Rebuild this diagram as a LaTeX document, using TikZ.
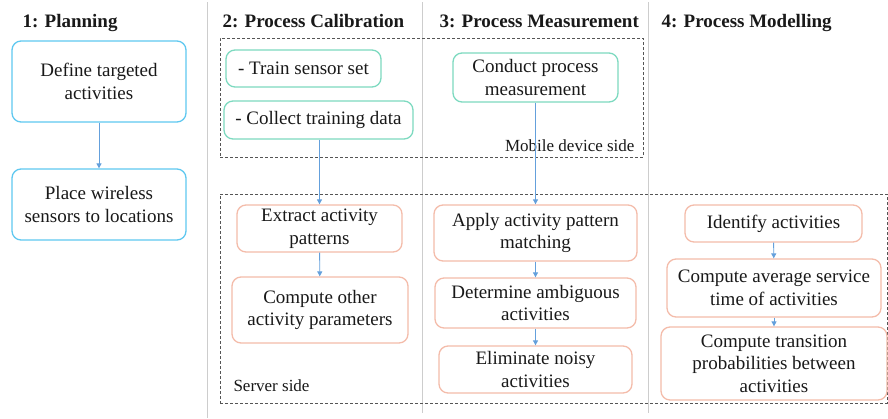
\documentclass[tikz,border=0pt]{standalone}
\usepackage{fontspec}
\setmainfont{Liberation Serif}
\usetikzlibrary{arrows.meta}
\definecolor{bluebd}{RGB}{95,200,240}
\definecolor{greenbd}{RGB}{125,218,192}
\definecolor{orangebd}{RGB}{244,188,170}
\definecolor{arrowc}{RGB}{100,160,220}
\definecolor{sepc}{RGB}{205,205,205}
\definecolor{dashc}{RGB}{85,85,85}
\definecolor{txt}{RGB}{25,25,25}
\tikzset{
  x=1pt, y=-1pt,
  every node/.style={font=\fontsize{19}{22.5}\selectfont, text=txt},
  basebox/.style={draw, rounded corners=9pt, line width=1.3pt, inner sep=0pt, align=center},
  bluebox/.style={basebox, draw=bluebd},
  greenbox/.style={basebox, draw=greenbd},
  orangebox/.style={basebox, draw=orangebd},
  flow/.style={draw=arrowc, line width=0.9pt, -{Triangle[length=5pt,width=5pt]}},
  sepline/.style={draw=sepc, line width=1pt},
  areabox/.style={draw=dashc, line width=0.9pt, dash pattern=on 3pt off 2pt, inner sep=0pt},
  phase/.style={font=\fontsize{19}{22}\selectfont\bfseries, anchor=base west},
  arealabel/.style={font=\fontsize{17}{20}\selectfont}
}
\begin{document}
\begin{tikzpicture}
\useasboundingbox (0,0) rectangle (888,418);
\fill[white] (0,0) rectangle (888,418);

% separators
\draw[sepline] (207,2) -- (207,418);
\draw[sepline] (422,2) -- (422,413);
\draw[sepline] (648,2) -- (648,413);

% phase titles
\node[phase] (t1) at (19,27) {1: Planning};
\node[phase] (t2) at (219,27) {2: Process Calibration};
\node[phase] (t3) at (436,27) {3: Process Measurement};
\node[phase] (t4) at (658,27) {4: Process Modelling};

% area boxes
\node[areabox, minimum width=423pt, minimum height=119pt] (mobile) at (431.5,97.5) {};
\node[arealabel, anchor=base east] (mobl) at (638,151) {Mobile device side};
\node[areabox, minimum width=667pt, minimum height=209pt] (server) at (553.5,298.5) {};
\node[arealabel, anchor=base west] (servl) at (230,391) {Server side};

% planning
\node[bluebox, minimum width=174pt, minimum height=81pt] (def) at (99,81.5) {Define targeted\\activities};
\node[bluebox, minimum width=174pt, minimum height=71pt] (place) at (99,204.5) {Place wireless\\sensors to locations};

% calibration
\node[greenbox, minimum width=155pt, minimum height=37pt] (train) at (303.5,68.5) {- Train sensor set};
\node[greenbox, minimum width=189pt, minimum height=38pt] (collect) at (318.5,120) {- Collect training data};
\node[orangebox, minimum width=165pt, minimum height=47pt] (extract) at (319.5,228.5) {Extract activity\\patterns};
\node[orangebox, minimum width=176pt, minimum height=66pt] (compother) at (320,310) {Compute other\\activity parameters};

% measurement
\node[greenbox, minimum width=165pt, minimum height=49pt] (conduct) at (535.5,77.5) {Conduct process\\measurement};
\node[orangebox, minimum width=203pt, minimum height=56pt] (apply) at (535.5,233) {Apply activity pattern\\matching};
\node[orangebox, minimum width=201pt, minimum height=50pt] (determine) at (535.5,303) {Determine ambiguous\\activities};
\node[orangebox, minimum width=193pt, minimum height=47pt] (elim) at (535.5,369.5) {Eliminate noisy\\activities};

% modelling
\node[orangebox, minimum width=177pt, minimum height=37pt] (ident) at (773.5,223.5) {Identify activities};
\node[orangebox, minimum width=214pt, minimum height=58pt] (avg) at (774,288) {Compute average service\\time of activities};
\node[orangebox, minimum width=226pt, minimum height=73pt] (trans) at (774,363.5) {Compute transition\\probabilities between\\activities};

% connectors
\draw[flow] (def) -- (place);
\draw[flow] (collect.south -| extract.north) -- (extract.north);
\draw[flow] (extract) -- (compother);
\draw[flow] (conduct) -- (apply);
\draw[flow] (apply) -- (determine);
\draw[flow] (determine) -- (elim);
\draw[flow] (ident) -- (avg);
\draw[flow] (avg) -- (trans);
\end{tikzpicture}
\end{document}
